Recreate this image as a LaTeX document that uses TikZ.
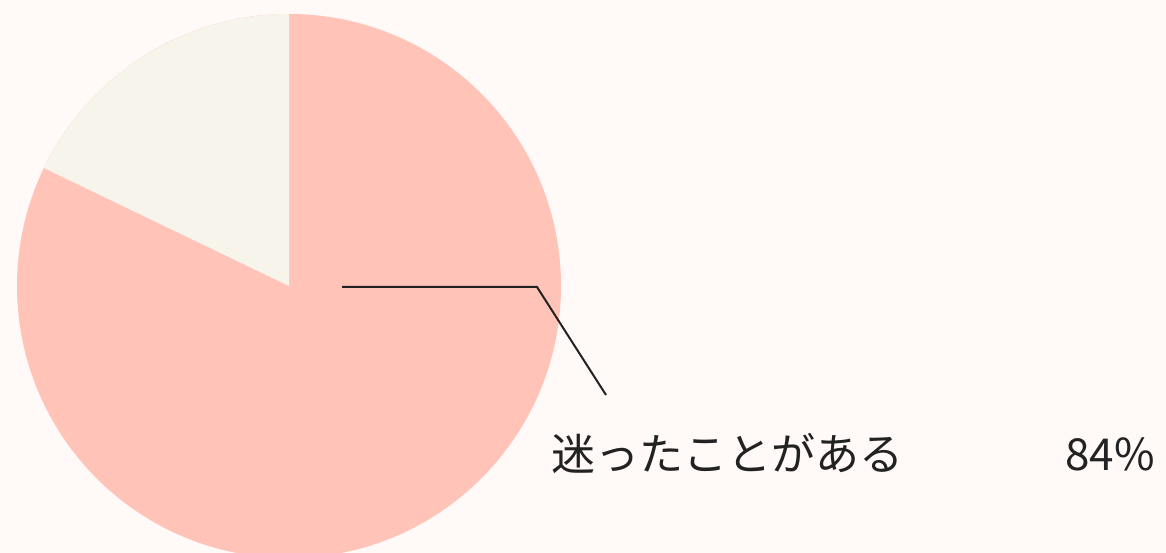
\documentclass[tikz,border=0pt]{standalone}
\usepackage{fontspec}
\newfontfamily\cjk{Noto Sans CJK JP}
\definecolor{canvas}{HTML}{FFF9F8}
\definecolor{slicepink}{HTML}{FFC3B8}
\definecolor{slicebeige}{HTML}{F7F4EC}
\definecolor{ink}{HTML}{222222}

\begin{document}
\begin{tikzpicture}[
    x = 1pt, y = 1pt, % one unit per pixel
    label text/.style={font=\cjk\fontsize{44}{52}\selectfont, text=ink, inner sep=0pt},
    leader/.style={draw=ink, line width=2pt}
  ]

  % Canvas
  \fill[canvas] (0,0) rectangle (1166,553);
  \useasboundingbox (0,0) rectangle (1166,553);

  % Slices
  \coordinate (c) at (289,267);
  \begin{scope}
    \clip (0,0) rectangle (1166,553);
    \fill[slicepink] (c) circle (272);
    \fill[slicebeige] (c) -- ++(90:272) arc (90:154.3:272) -- cycle;
  \end{scope}

  % Labels
  \node[label text, anchor=base west] (answer) at (551,82) {迷ったことがある};
  \node[label text, anchor=base east] (share) at (1155,82) {84\%};

  % Leader
  \coordinate (tip) at (342,266);
  \coordinate (bend) at (537,266);
  \coordinate (foot) at (606,158);
  \draw[leader] (tip) -- (bend) -- (foot);
\end{tikzpicture}
\end{document}
